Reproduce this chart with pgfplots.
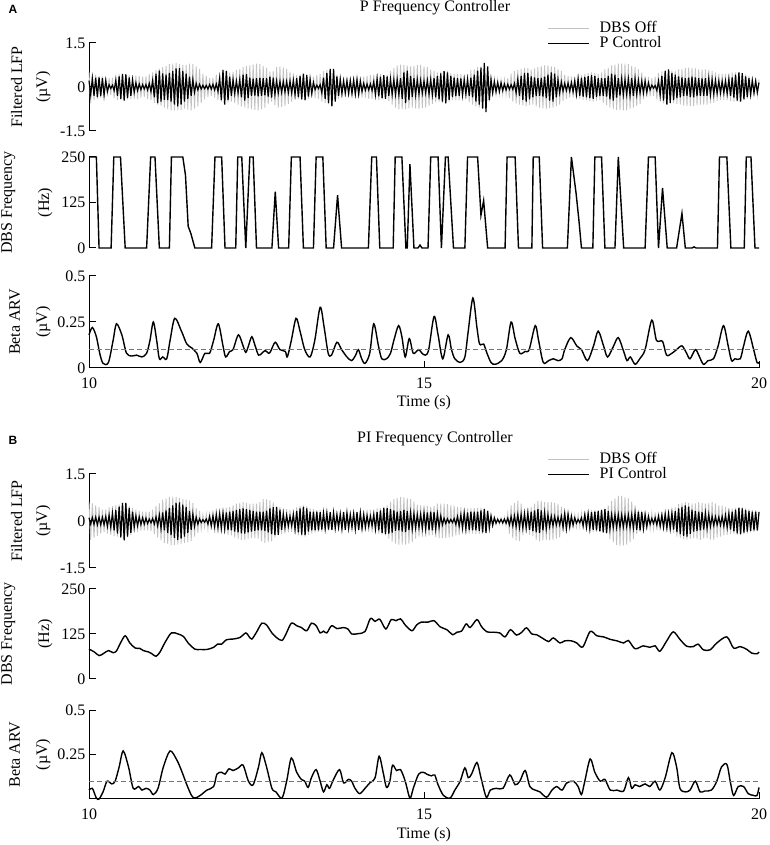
\documentclass[border=0pt]{standalone}
\usepackage{fontspec}
\setmainfont{Liberation Serif}
\newfontfamily\panelfont{Liberation Sans}
\usepackage{pgfplots}
\usepackage{pgfplotstable}
\pgfplotsset{compat=1.18}
\newcommand\fsz{\fontsize{16}{18}\selectfont}
\definecolor{offgray}{rgb}{0.76,0.76,0.76}
\definecolor{thr}{rgb}{0.95,0.25,0.25}

% LFP traces, one row every 0.025 s from 10 s to 20 s: DBS off, controller on
\pgfplotstableread[row sep=\\,header=false]{
0.52 0.22\\-0.55 -0.26\\0.5 0.28\\-0.45 -0.3\\
0.42 0.32\\-0.4 -0.34\\0.38 0.33\\-0.37 -0.31\\
0.36 0.3\\-0.35 -0.28\\0.33 0.22\\-0.32 -0.15\\
0.3 0.08\\-0.28 -0.05\\0.32 0.06\\-0.38 -0.12\\
0.42 0.22\\-0.45 -0.3\\0.44 0.36\\-0.45 -0.4\\
0.46 0.44\\-0.45 -0.46\\0.44 0.43\\-0.42 -0.38\\
0.41 0.33\\-0.4 -0.3\\0.4 0.24\\-0.4 -0.18\\
0.39 0.14\\-0.4 -0.12\\0.38 0.1\\-0.36 -0.09\\
0.35 0.08\\-0.34 -0.07\\0.36 0.08\\-0.4 -0.1\\
0.43 0.12\\-0.45 -0.15\\0.5 0.22\\-0.55 -0.35\\
0.58 0.45\\-0.6 -0.55\\0.62 0.56\\-0.65 -0.5\\
0.68 0.46\\-0.7 -0.44\\0.72 0.42\\-0.75 -0.45\\
0.78 0.48\\-0.8 -0.5\\0.8 0.55\\-0.8 -0.6\\
0.82 0.63\\-0.8 -0.66\\0.78 0.64\\-0.78 -0.6\\
0.76 0.55\\-0.74 -0.5\\0.75 0.45\\-0.77 -0.4\\
0.8 0.35\\-0.8 -0.3\\0.78 0.25\\-0.74 -0.18\\
0.7 0.12\\-0.66 -0.1\\0.62 0.09\\-0.55 -0.07\\
0.45 0.06\\-0.42 -0.06\\0.38 0.05\\-0.34 -0.07\\
0.3 0.08\\-0.3 -0.07\\0.32 0.09\\-0.36 -0.1\\
0.42 0.1\\-0.45 -0.15\\0.48 0.3\\-0.5 -0.45\\
0.54 0.58\\-0.56 -0.6\\0.55 0.55\\-0.52 -0.45\\
0.5 0.35\\-0.5 -0.3\\0.52 0.25\\-0.55 -0.22\\
0.58 0.2\\-0.6 -0.2\\0.62 0.25\\-0.66 -0.35\\
0.68 0.42\\-0.7 -0.46\\0.72 0.44\\-0.73 -0.38\\
0.74 0.32\\-0.75 -0.3\\0.76 0.28\\-0.78 -0.29\\
0.8 0.3\\-0.8 -0.32\\0.78 0.31\\-0.76 -0.3\\
0.72 0.3\\-0.7 -0.28\\0.65 0.3\\-0.58 -0.33\\
0.52 0.35\\-0.5 -0.36\\0.55 0.32\\-0.62 -0.25\\
0.68 0.2\\-0.7 -0.2\\0.7 0.19\\-0.68 -0.18\\
0.66 0.18\\-0.65 -0.17\\0.62 0.18\\-0.58 -0.19\\
0.52 0.2\\-0.5 -0.2\\0.46 0.22\\-0.42 -0.26\\
0.4 0.3\\-0.4 -0.34\\0.42 0.38\\-0.44 -0.42\\
0.45 0.45\\-0.46 -0.45\\0.44 0.4\\-0.4 -0.33\\
0.36 0.26\\-0.35 -0.22\\0.35 0.15\\-0.37 -0.09\\
0.4 0.06\\-0.4 -0.05\\0.44 0.08\\-0.5 -0.2\\
0.54 0.32\\-0.55 -0.4\\0.57 0.48\\-0.58 -0.55\\
0.6 0.62\\-0.6 -0.66\\0.58 0.62\\-0.5 -0.5\\
0.42 0.36\\-0.4 -0.3\\0.38 0.26\\-0.36 -0.22\\
0.35 0.2\\-0.34 -0.2\\0.32 0.21\\-0.3 -0.22\\
0.3 0.22\\-0.3 -0.22\\0.32 0.23\\-0.34 -0.24\\
0.35 0.25\\-0.35 -0.24\\0.36 0.2\\-0.35 -0.15\\
0.35 0.12\\-0.36 -0.11\\0.38 0.1\\-0.4 -0.1\\
0.4 0.1\\-0.41 -0.12\\0.42 0.18\\-0.44 -0.25\\
0.45 0.28\\-0.45 -0.32\\0.44 0.35\\-0.42 -0.38\\
0.4 0.4\\-0.4 -0.4\\0.42 0.36\\-0.48 -0.3\\
0.55 0.26\\-0.6 -0.25\\0.65 0.24\\-0.7 -0.25\\
0.74 0.25\\-0.75 -0.26\\0.76 0.3\\-0.75 -0.4\\
0.75 0.5\\-0.75 -0.55\\0.74 0.56\\-0.72 -0.45\\
0.7 0.38\\-0.7 -0.34\\0.72 0.3\\-0.73 -0.27\\
0.75 0.25\\-0.76 -0.24\\0.75 0.22\\-0.72 -0.21\\
0.7 0.2\\-0.7 -0.2\\0.68 0.22\\-0.65 -0.24\\
0.6 0.25\\-0.58 -0.26\\0.55 0.3\\-0.52 -0.35\\
0.5 0.38\\-0.5 -0.42\\0.52 0.46\\-0.54 -0.5\\
0.55 0.54\\-0.56 -0.56\\0.54 0.5\\-0.5 -0.44\\
0.46 0.38\\-0.45 -0.34\\0.45 0.32\\-0.45 -0.31\\
0.45 0.3\\-0.45 -0.3\\0.44 0.29\\-0.42 -0.27\\
0.4 0.25\\-0.4 -0.24\\0.45 0.26\\-0.52 -0.3\\
0.58 0.32\\-0.6 -0.35\\0.62 0.42\\-0.66 -0.5\\
0.68 0.56\\-0.7 -0.6\\0.7 0.66\\-0.72 -0.74\\
0.72 0.82\\-0.7 -0.86\\0.66 0.7\\-0.5 -0.45\\
0.35 0.26\\-0.3 -0.2\\0.28 0.18\\-0.26 -0.16\\
0.25 0.15\\-0.25 -0.15\\0.24 0.14\\-0.25 -0.12\\
0.25 0.1\\-0.26 -0.1\\0.3 0.09\\-0.38 -0.08\\
0.45 0.08\\-0.5 -0.08\\0.54 0.12\\-0.56 -0.2\\
0.58 0.26\\-0.6 -0.3\\0.62 0.38\\-0.63 -0.44\\
0.65 0.48\\-0.65 -0.5\\0.64 0.48\\-0.62 -0.42\\
0.6 0.36\\-0.6 -0.35\\0.63 0.33\\-0.66 -0.31\\
0.68 0.3\\-0.7 -0.3\\0.72 0.31\\-0.73 -0.33\\
0.74 0.35\\-0.75 -0.38\\0.74 0.42\\-0.72 -0.46\\
0.7 0.5\\-0.7 -0.5\\0.68 0.45\\-0.65 -0.35\\
0.62 0.24\\-0.6 -0.2\\0.55 0.17\\-0.48 -0.14\\
0.42 0.12\\-0.4 -0.12\\0.38 0.13\\-0.36 -0.14\\
0.35 0.15\\-0.35 -0.16\\0.36 0.2\\-0.38 -0.25\\
0.4 0.28\\-0.4 -0.3\\0.41 0.32\\-0.43 -0.33\\
0.45 0.34\\-0.45 -0.35\\0.47 0.37\\-0.48 -0.38\\
0.5 0.4\\-0.5 -0.4\\0.48 0.38\\-0.46 -0.34\\
0.45 0.3\\-0.45 -0.3\\0.5 0.3\\-0.55 -0.3\\
0.6 0.3\\-0.62 -0.33\\0.66 0.38\\-0.7 -0.42\\
0.74 0.45\\-0.75 -0.46\\0.76 0.42\\-0.78 -0.36\\
0.8 0.3\\-0.8 -0.29\\0.8 0.28\\-0.8 -0.26\\
0.8 0.25\\-0.8 -0.25\\0.78 0.27\\-0.75 -0.28\\
0.72 0.3\\-0.7 -0.3\\0.68 0.28\\-0.65 -0.25\\
0.6 0.22\\-0.58 -0.2\\0.5 0.2\\-0.42 -0.2\\
0.36 0.2\\-0.35 -0.18\\0.34 0.14\\-0.32 -0.1\\
0.3 0.06\\-0.3 -0.04\\0.35 0.05\\-0.42 -0.12\\
0.48 0.2\\-0.5 -0.28\\0.53 0.38\\-0.56 -0.46\\
0.58 0.55\\-0.6 -0.6\\0.6 0.6\\-0.58 -0.54\\
0.56 0.48\\-0.55 -0.45\\0.56 0.42\\-0.58 -0.38\\
0.6 0.36\\-0.6 -0.35\\0.62 0.33\\-0.63 -0.31\\
0.65 0.3\\-0.65 -0.3\\0.66 0.32\\-0.65 -0.34\\
0.65 0.35\\-0.65 -0.35\\0.63 0.33\\-0.62 -0.31\\
0.6 0.3\\-0.6 -0.3\\0.6 0.29\\-0.6 -0.3\\
0.6 0.3\\-0.6 -0.3\\0.58 0.28\\-0.56 -0.26\\
0.55 0.25\\-0.54 -0.24\\0.5 0.22\\-0.47 -0.21\\
0.45 0.2\\-0.45 -0.2\\0.45 0.19\\-0.44 -0.2\\
0.45 0.2\\-0.45 -0.22\\0.46 0.26\\-0.48 -0.3\\
0.5 0.33\\-0.5 -0.36\\0.5 0.42\\-0.5 -0.46\\
0.5 0.5\\-0.5 -0.5\\0.48 0.47\\-0.45 -0.42\\
0.42 0.36\\-0.4 -0.34\\0.38 0.3\\-0.35 -0.26\\
0.32 0.22\\-0.3 -0.2\\0.3 0.2\\-0.28 -0.18\\
0.25 0.15\\
}\lfpA

\pgfplotstableread[row sep=\\,header=false]{
0.6 0.1\\-0.6 -0.1\\0.56 0.11\\-0.54 -0.11\\
0.5 0.12\\-0.48 -0.12\\0.44 0.12\\-0.4 -0.12\\
0.36 0.12\\-0.35 -0.12\\0.36 0.14\\-0.4 -0.17\\
0.43 0.18\\-0.45 -0.2\\0.47 0.24\\-0.48 -0.3\\
0.5 0.35\\-0.5 -0.4\\0.52 0.46\\-0.55 -0.52\\
0.58 0.58\\-0.6 -0.62\\0.58 0.58\\-0.52 -0.5\\
0.47 0.42\\-0.45 -0.38\\0.42 0.3\\-0.38 -0.2\\
0.36 0.16\\-0.35 -0.15\\0.33 0.13\\-0.31 -0.11\\
0.3 0.1\\-0.3 -0.1\\0.3 0.09\\-0.3 -0.08\\
0.3 0.06\\-0.32 -0.06\\0.36 0.08\\-0.42 -0.1\\
0.48 0.13\\-0.52 -0.15\\0.56 0.19\\-0.62 -0.24\\
0.68 0.27\\-0.7 -0.3\\0.72 0.34\\-0.74 -0.38\\
0.77 0.42\\-0.78 -0.45\\0.78 0.5\\-0.77 -0.54\\
0.76 0.58\\-0.75 -0.6\\0.74 0.59\\-0.72 -0.56\\
0.7 0.52\\-0.7 -0.5\\0.68 0.44\\-0.67 -0.38\\
0.65 0.32\\-0.64 -0.28\\0.58 0.22\\-0.5 -0.17\\
0.42 0.12\\-0.38 -0.1\\0.32 0.07\\-0.26 -0.05\\
0.2 0.04\\-0.2 -0.04\\0.22 0.06\\-0.26 -0.1\\
0.3 0.14\\-0.3 -0.15\\0.34 0.16\\-0.38 -0.18\\
0.4 0.2\\-0.4 -0.2\\0.4 0.22\\-0.4 -0.23\\
0.4 0.25\\-0.4 -0.25\\0.42 0.27\\-0.44 -0.29\\
0.45 0.3\\-0.46 -0.3\\0.5 0.32\\-0.53 -0.34\\
0.55 0.35\\-0.56 -0.36\\0.58 0.38\\-0.6 -0.39\\
0.6 0.4\\-0.6 -0.4\\0.58 0.38\\-0.56 -0.36\\
0.55 0.35\\-0.55 -0.34\\0.55 0.32\\-0.55 -0.31\\
0.55 0.3\\-0.56 -0.3\\0.6 0.3\\-0.65 -0.3\\
0.7 0.3\\-0.7 -0.31\\0.69 0.33\\-0.68 -0.36\\
0.66 0.4\\-0.65 -0.42\\0.6 0.44\\-0.52 -0.45\\
0.46 0.45\\-0.45 -0.44\\0.44 0.36\\-0.42 -0.28\\
0.4 0.22\\-0.4 -0.2\\0.38 0.18\\-0.36 -0.16\\
0.35 0.15\\-0.35 -0.15\\0.38 0.2\\-0.42 -0.26\\
0.44 0.32\\-0.45 -0.36\\0.47 0.4\\-0.49 -0.43\\
0.5 0.45\\-0.5 -0.45\\0.47 0.4\\-0.44 -0.34\\
0.4 0.3\\-0.4 -0.3\\0.38 0.3\\-0.36 -0.3\\
0.35 0.3\\-0.35 -0.3\\0.35 0.28\\-0.35 -0.27\\
0.35 0.25\\-0.34 -0.24\\0.33 0.25\\-0.31 -0.27\\
0.3 0.28\\-0.3 -0.28\\0.3 0.26\\-0.3 -0.23\\
0.3 0.2\\-0.3 -0.2\\0.3 0.22\\-0.3 -0.25\\
0.3 0.28\\-0.3 -0.28\\0.29 0.26\\-0.29 -0.23\\
0.28 0.2\\-0.28 -0.2\\0.29 0.23\\-0.3 -0.26\\
0.3 0.28\\-0.3 -0.28\\0.32 0.26\\-0.34 -0.23\\
0.35 0.2\\-0.35 -0.19\\0.35 0.17\\-0.35 -0.16\\
0.35 0.15\\-0.36 -0.15\\0.37 0.2\\-0.38 -0.25\\
0.4 0.28\\-0.4 -0.3\\0.41 0.34\\-0.43 -0.38\\
0.45 0.42\\-0.46 -0.42\\0.5 0.41\\-0.56 -0.4\\
0.62 0.38\\-0.66 -0.37\\0.7 0.34\\-0.72 -0.31\\
0.74 0.3\\-0.75 -0.3\\0.76 0.32\\-0.75 -0.34\\
0.75 0.35\\-0.75 -0.35\\0.74 0.32\\-0.72 -0.29\\
0.7 0.26\\-0.68 -0.25\\0.62 0.23\\-0.56 -0.22\\
0.52 0.2\\-0.5 -0.2\\0.5 0.21\\-0.5 -0.23\\
0.5 0.25\\-0.5 -0.25\\0.48 0.27\\-0.47 -0.29\\
0.45 0.3\\-0.45 -0.3\\0.48 0.28\\-0.52 -0.25\\
0.55 0.22\\-0.55 -0.2\\0.55 0.16\\-0.55 -0.12\\
0.55 0.09\\-0.55 -0.08\\0.54 0.07\\-0.52 -0.06\\
0.5 0.05\\-0.5 -0.05\\0.48 0.08\\-0.46 -0.11\\
0.45 0.14\\-0.45 -0.16\\0.43 0.19\\-0.42 -0.22\\
0.4 0.25\\-0.4 -0.25\\0.4 0.27\\-0.4 -0.29\\
0.4 0.3\\-0.4 -0.3\\0.41 0.3\\-0.42 -0.3\\
0.42 0.3\\-0.42 -0.31\\0.42 0.34\\-0.41 -0.36\\
0.4 0.38\\-0.4 -0.38\\0.34 0.32\\-0.24 -0.22\\
0.18 0.16\\-0.15 -0.14\\0.13 0.1\\-0.12 -0.07\\
0.1 0.05\\-0.1 -0.05\\0.1 0.05\\-0.11 -0.06\\
0.12 0.06\\-0.14 -0.07\\0.25 0.09\\-0.4 -0.12\\
0.5 0.14\\-0.55 -0.15\\0.58 0.16\\-0.62 -0.18\\
0.65 0.2\\-0.64 -0.2\\0.55 0.21\\-0.45 -0.22\\
0.4 0.22\\-0.4 -0.22\\0.42 0.25\\-0.44 -0.28\\
0.45 0.3\\-0.48 -0.32\\0.55 0.34\\-0.6 -0.36\\
0.64 0.38\\-0.65 -0.38\\0.64 0.34\\-0.62 -0.3\\
0.6 0.26\\-0.6 -0.24\\0.6 0.2\\-0.6 -0.17\\
0.6 0.15\\-0.6 -0.15\\0.58 0.14\\-0.56 -0.13\\
0.55 0.12\\-0.52 -0.12\\0.45 0.15\\-0.36 -0.2\\
0.3 0.24\\-0.3 -0.25\\0.28 0.22\\-0.25 -0.18\\
0.22 0.15\\-0.2 -0.13\\0.2 0.1\\-0.2 -0.07\\
0.2 0.05\\-0.2 -0.05\\0.24 0.1\\-0.28 -0.15\\
0.3 0.2\\-0.3 -0.2\\0.32 0.23\\-0.33 -0.25\\
0.35 0.28\\-0.35 -0.28\\0.35 0.3\\-0.35 -0.3\\
0.35 0.32\\-0.35 -0.33\\0.37 0.35\\-0.38 -0.36\\
0.4 0.38\\-0.42 -0.38\\0.5 0.32\\-0.58 -0.25\\
0.64 0.2\\-0.68 -0.2\\0.72 0.2\\-0.76 -0.2\\
0.8 0.2\\-0.8 -0.2\\0.8 0.19\\-0.78 -0.19\\
0.76 0.18\\-0.75 -0.18\\0.72 0.19\\-0.68 -0.2\\
0.62 0.2\\-0.58 -0.22\\0.5 0.25\\-0.42 -0.28\\
0.36 0.3\\-0.35 -0.3\\0.34 0.28\\-0.32 -0.24\\
0.3 0.2\\-0.3 -0.18\\0.28 0.14\\-0.26 -0.1\\
0.25 0.08\\-0.25 -0.08\\0.27 0.1\\-0.29 -0.12\\
0.3 0.15\\-0.3 -0.16\\0.3 0.18\\-0.3 -0.2\\
0.3 0.22\\-0.31 -0.22\\0.32 0.23\\-0.33 -0.24\\
0.35 0.25\\-0.38 -0.27\\0.44 0.31\\-0.5 -0.35\\
0.54 0.4\\-0.55 -0.42\\0.57 0.45\\-0.58 -0.47\\
0.6 0.5\\-0.6 -0.5\\0.58 0.46\\-0.56 -0.41\\
0.55 0.36\\-0.55 -0.34\\0.56 0.32\\-0.58 -0.31\\
0.6 0.3\\-0.6 -0.3\\0.58 0.28\\-0.56 -0.27\\
0.55 0.25\\-0.55 -0.23\\0.57 0.2\\-0.59 -0.17\\
0.6 0.15\\-0.6 -0.14\\0.56 0.13\\-0.52 -0.12\\
0.5 0.12\\-0.5 -0.13\\0.48 0.14\\-0.46 -0.16\\
0.45 0.18\\-0.44 -0.2\\0.42 0.23\\-0.41 -0.27\\
0.4 0.3\\-0.4 -0.33\\0.42 0.36\\-0.44 -0.39\\
0.45 0.42\\-0.45 -0.42\\0.44 0.4\\-0.42 -0.37\\
0.4 0.35\\-0.4 -0.34\\0.38 0.32\\-0.36 -0.31\\
0.35 0.3\\-0.35 -0.3\\0.34 0.3\\-0.33 -0.3\\
0.32 0.28\\
}\lfpB

\pgfplotsset{
  panel/.style={scale only axis, width=670pt, xmin=10, xmax=20, clip=false,
    axis line style={line width=1pt}, tick style={line width=1pt,black},
    tick align=inside, major tick length=7pt, axis y line*=left,
    tick label style={font=\fsz}},
  toppanel/.style={panel, hide x axis},
  botpanel/.style={panel, axis x line*=bottom, xtick={10,15,20},
    xticklabels={10,15,20}, xticklabel style={yshift=-6pt}},
  lfp/.style={toppanel, height=#1, ymin=-1.5, ymax=1.5, ytick={-1.5,0,1.5},
    yticklabels={-1.5,0,1.5}, legend cell align=left,
    legend image code/.code={\draw[##1] (0pt,0pt) -- (41pt,0pt);}},
  freq/.style={toppanel, height=#1, ymin=0, ymax=250, ytick={0,125,250},
    yticklabels={0,125,250}},
  arv/.style={botpanel, height=#1, ymin=0, ymax=0.5, ytick={0,0.25,0.5}},
  offline/.style={color=offgray, line width=0.85pt},
  online/.style={color=black, line width=1.2pt},
  trace/.style={color=black, line width=1.4pt},
  legstyle/.style={legend style={at={#1}, anchor=north west, draw=none,
    fill=none, inner sep=0pt, row sep=1.5pt, column sep=10pt, font=\fsz,
    nodes={inner sep=0pt, text height=10.5pt, text depth=3pt}}}
}

\begin{document}
\begin{tikzpicture}[font=\fsz]
\useasboundingbox (0pt,0pt) rectangle (770pt,845pt);

% ---------------- A ----------------
\node[anchor=base west, font=\panelfont\bfseries\fontsize{12}{14}\selectfont] at (5pt,831pt) {A};
\node[anchor=base] at (435pt,833pt) {P Frequency Controller};

\begin{axis}[lfp=88pt, at={(89pt,714pt)}, anchor=south west, legstyle={(0.684,1.244)}]
\addplot[offline] table[x expr=10+\coordindex*0.025, y index=0] {\lfpA};
\addplot[online] table[x expr=10+\coordindex*0.025, y index=1] {\lfpA};
\legend{DBS Off, P Control}
\end{axis}

\begin{axis}[freq=91pt, at={(89pt,597pt)}, anchor=south west]
\addplot[trace] coordinates {(10.0,250) (10.11,250) (10.15,0) (10.33,0) (10.37,250) (10.47,250) (10.54,0) (10.86,0) (10.92,250) (10.985,250) (11.05,0) (11.2,0) (11.23,250) (11.4,250) (11.44,200) (11.48,60) (11.52,40) (11.58,0) (11.83,0) (11.88,250) (11.98,250) (12.03,0) (12.19,0) (12.22,250) (12.28,250) (12.34,0) (12.40,250) (12.45,250) (12.5,0) (12.73,0) (12.78,155) (12.83,0) (12.98,0) (13.02,250) (13.15,250) (13.2,0) (13.35,0) (13.39,250) (13.49,250) (13.54,0) (13.65,0) (13.71,145) (13.77,0) (14.17,0) (14.22,250) (14.29,250) (14.34,0) (14.54,0) (14.57,250) (14.67,250) (14.73,0) (14.75,0) (14.79,230) (14.85,0) (14.91,0) (14.94,8) (14.97,0) (15.06,0) (15.10,250) (15.21,250) (15.26,0) (15.32,250) (15.36,250) (15.44,0) (15.61,0) (15.65,250) (15.80,250) (15.85,90) (15.89,130) (15.95,0) (16.21,0) (16.24,250) (16.36,250) (16.41,0) (16.61,0) (16.63,250) (16.72,250) (16.77,0) (17.14,0) (17.2,250) (17.27,150) (17.31,80) (17.35,0) (17.52,0) (17.55,250) (17.65,250) (17.70,0) (17.85,0) (17.90,250) (17.98,0) (18.30,0) (18.35,250) (18.45,250) (18.50,0) (18.56,165) (18.63,0) (18.77,0) (18.85,95) (18.90,0) (19.0,0) (19.03,3) (19.06,0) (19.38,0) (19.41,250) (19.52,250) (19.58,0) (19.78,0) (19.81,250) (19.88,250) (19.94,0) (20.0,0)};
\end{axis}

\begin{axis}[arv=92pt, at={(89pt,477pt)}, anchor=south west, yticklabels={0,0.25,0.5}]
\addplot[trace, smooth, tension=0.5] coordinates {(10.0,0.18) (10.05,0.22) (10.11,0.17) (10.16,0.08) (10.21,0.025) (10.29,0.03) (10.36,0.15) (10.41,0.24) (10.49,0.18) (10.56,0.08) (10.64,0.065) (10.71,0.07) (10.79,0.06) (10.86,0.08) (10.91,0.15) (10.96,0.25) (11.01,0.15) (11.05,0.05) (11.10,0.06) (11.16,0.05) (11.21,0.15) (11.28,0.27) (11.38,0.2) (11.46,0.13) (11.53,0.11) (11.61,0.08) (11.66,0.03) (11.73,0.08) (11.80,0.08) (11.86,0.15) (11.93,0.24) (12.0,0.12) (12.04,0.06) (12.10,0.09) (12.15,0.1) (12.23,0.18) (12.30,0.12) (12.34,0.085) (12.38,0.12) (12.43,0.17) (12.48,0.12) (12.53,0.07) (12.58,0.08) (12.63,0.095) (12.68,0.08) (12.71,0.09) (12.78,0.14) (12.85,0.1) (12.93,0.09) (12.96,0.06) (13.02,0.15) (13.09,0.27) (13.15,0.2) (13.22,0.1) (13.30,0.06) (13.37,0.15) (13.45,0.33) (13.51,0.22) (13.57,0.08) (13.62,0.07) (13.70,0.14) (13.77,0.1) (13.85,0.06) (13.92,0.04) (13.98,0.07) (14.02,0.1) (14.07,0.05) (14.12,0.025) (14.19,0.08) (14.25,0.24) (14.32,0.12) (14.37,0.05) (14.44,0.05) (14.50,0.08) (14.55,0.15) (14.62,0.23) (14.67,0.17) (14.72,0.06) (14.78,0.16) (14.84,0.08) (14.92,0.1) (14.97,0.08) (15.02,0.07) (15.07,0.1) (15.15,0.28) (15.21,0.18) (15.28,0.05) (15.36,0.18) (15.41,0.1) (15.46,0.05) (15.54,0.03) (15.61,0.06) (15.66,0.2) (15.73,0.38) (15.79,0.22) (15.83,0.13) (15.89,0.13) (15.94,0.08) (16.0,0.03) (16.06,0.02) (16.16,0.04) (16.23,0.1) (16.30,0.25) (16.36,0.16) (16.43,0.08) (16.51,0.09) (16.57,0.1) (16.66,0.23) (16.71,0.15) (16.78,0.03) (16.86,0.04) (16.93,0.05) (17.0,0.04) (17.06,0.05) (17.10,0.1) (17.19,0.165) (17.28,0.12) (17.35,0.1) (17.44,0.04) (17.53,0.12) (17.60,0.2) (17.68,0.12) (17.74,0.06) (17.83,0.12) (17.90,0.165) (17.98,0.09) (18.03,0.04) (18.08,0.06) (18.15,0.02) (18.22,0.05) (18.30,0.1) (18.40,0.26) (18.47,0.15) (18.56,0.145) (18.62,0.07) (18.70,0.08) (18.77,0.1) (18.85,0.12) (18.92,0.08) (18.97,0.05) (19.05,0.1) (19.10,0.07) (19.17,0.02) (19.24,0.04) (19.32,0.05) (19.39,0.12) (19.47,0.23) (19.54,0.12) (19.59,0.04) (19.64,0.05) (19.72,0.05) (19.77,0.12) (19.84,0.2) (19.92,0.1) (19.97,0.03) (20.0,0.03)};
\addplot[color=thr, line width=1.4pt, dash pattern=on 5pt off 3pt] coordinates {(10,0.1) (20,0.1)};
\end{axis}

% ---------------- B ----------------
\node[anchor=base west, font=\panelfont\bfseries\fontsize{12}{14}\selectfont] at (5pt,400pt) {B};
\node[anchor=base] at (435pt,402pt) {PI Frequency Controller};

\begin{axis}[lfp=94pt, at={(89pt,277pt)}, anchor=south west, legstyle={(0.684,1.229)}]
\addplot[offline] table[x expr=10+\coordindex*0.025, y index=0] {\lfpB};
\addplot[online] table[x expr=10+\coordindex*0.025, y index=1] {\lfpB};
\legend{DBS Off, PI Control}
\end{axis}

\begin{axis}[freq=90pt, at={(89pt,166pt)}, anchor=south west]
\addplot[trace, smooth, tension=0.5] coordinates {(10.0,83) (10.08,75) (10.15,65) (10.21,70) (10.29,79) (10.36,73) (10.41,78) (10.47,100) (10.54,120) (10.61,100) (10.69,86) (10.76,85) (10.81,79) (10.89,75) (10.94,70) (11.0,63) (11.06,75) (11.13,100) (11.23,128) (11.33,125) (11.41,118) (11.48,100) (11.58,83) (11.66,82) (11.76,82) (11.86,88) (11.92,97) (11.98,97) (12.05,109) (12.15,111) (12.25,115) (12.34,128) (12.38,120) (12.43,111) (12.50,130) (12.58,155) (12.65,150) (12.73,128) (12.80,115) (12.88,107) (12.94,125) (13.02,155) (13.10,148) (13.17,143) (13.25,134) (13.32,155) (13.39,148) (13.45,128) (13.50,133) (13.55,128) (13.62,148) (13.70,140) (13.80,143) (13.87,138) (13.92,125) (14.02,126) (14.12,132) (14.2,168) (14.27,160) (14.34,166) (14.43,139) (14.51,165) (14.58,162) (14.65,167) (14.72,150) (14.82,134) (14.89,150) (14.96,158) (15.06,158) (15.15,162) (15.24,145) (15.34,137) (15.43,123) (15.49,130) (15.56,133) (15.63,153) (15.69,143) (15.79,165) (15.86,145) (15.94,131) (16.03,130) (16.13,128) (16.21,117) (16.29,137) (16.38,122) (16.46,130) (16.53,142) (16.61,125) (16.68,123) (16.78,112) (16.86,104) (16.93,114) (17.03,100) (17.10,106) (17.20,106) (17.28,100) (17.37,89) (17.48,132) (17.58,120) (17.68,117) (17.78,110) (17.88,106) (17.98,100) (18.05,107) (18.15,84) (18.27,92) (18.37,88) (18.45,92) (18.52,77) (18.62,105) (18.72,131) (18.82,110) (18.92,91) (19.02,90) (19.09,97) (19.17,81) (19.27,81) (19.37,100) (19.52,117) (19.62,86) (19.72,90) (19.82,82) (19.89,72) (19.97,70) (20.0,75)};
\end{axis}

\begin{axis}[arv=89pt, at={(89pt,46pt)}, anchor=south west, yticklabels={,0.25,0.5}]
\addplot[trace, smooth, tension=0.5] coordinates {(10.0,0.05) (10.05,0.06) (10.11,0.005) (10.15,0.0) (10.21,0.04) (10.27,0.1) (10.34,0.085) (10.39,0.1) (10.45,0.18) (10.51,0.27) (10.59,0.18) (10.66,0.06) (10.74,0.07) (10.79,0.05) (10.85,0.06) (10.91,0.05) (10.96,0.025) (11.03,0.06) (11.11,0.18) (11.21,0.27) (11.31,0.22) (11.38,0.16) (11.46,0.08) (11.53,0.02) (11.58,0.005) (11.66,0.02) (11.76,0.05) (11.86,0.07) (11.91,0.14) (11.98,0.15) (12.03,0.14) (12.09,0.17) (12.15,0.16) (12.23,0.175) (12.30,0.19) (12.38,0.1) (12.45,0.08) (12.53,0.18) (12.58,0.26) (12.65,0.18) (12.73,0.06) (12.79,0.04) (12.88,0.005) (12.95,0.1) (13.02,0.23) (13.10,0.15) (13.17,0.11) (13.22,0.1) (13.27,0.065) (13.32,0.12) (13.39,0.165) (13.45,0.1) (13.50,0.04) (13.55,0.08) (13.59,0.06) (13.65,0.11) (13.74,0.165) (13.80,0.09) (13.87,0.11) (13.92,0.1) (13.97,0.06) (14.04,0.03) (14.12,0.06) (14.19,0.09) (14.27,0.12) (14.33,0.24) (14.39,0.15) (14.44,0.065) (14.49,0.1) (14.53,0.19) (14.59,0.16) (14.65,0.165) (14.72,0.1) (14.79,0.005) (14.84,0.06) (14.92,0.14) (14.99,0.15) (15.04,0.14) (15.11,0.13) (15.16,0.135) (15.21,0.08) (15.29,0.02) (15.39,0.005) (15.46,0.05) (15.54,0.1) (15.61,0.175) (15.66,0.12) (15.71,0.14) (15.79,0.205) (15.85,0.12) (15.93,0.01) (15.99,0.05) (16.08,0.06) (16.18,0.06) (16.28,0.135) (16.36,0.08) (16.43,0.1) (16.51,0.16) (16.58,0.07) (16.66,0.05) (16.73,0.04) (16.83,0.01) (16.91,0.05) (16.98,0.07) (17.06,0.05) (17.13,0.09) (17.23,0.1) (17.30,0.07) (17.35,0.025) (17.40,0.1) (17.48,0.225) (17.55,0.15) (17.63,0.1) (17.70,0.11) (17.78,0.05) (17.88,0.05) (17.98,0.045) (18.05,0.12) (18.10,0.06) (18.15,0.08) (18.22,0.07) (18.30,0.085) (18.37,0.07) (18.45,0.1) (18.52,0.05) (18.60,0.12) (18.70,0.26) (18.77,0.18) (18.82,0.06) (18.90,0.04) (18.97,0.05) (19.05,0.1) (19.12,0.04) (19.19,0.045) (19.29,0.05) (19.37,0.1) (19.44,0.18) (19.52,0.195) (19.57,0.1) (19.62,0.02) (19.69,0.07) (19.77,0.07) (19.84,0.03) (19.92,0.02) (19.97,0.02) (20.0,0.065)};
\addplot[color=thr, line width=1.4pt, dash pattern=on 5pt off 3pt] coordinates {(10,0.1) (20,0.1)};
\end{axis}

% axis labels
\node[rotate=90, anchor=base] at (22pt,758pt) {Filtered LFP};
\node[rotate=90, anchor=base] at (47pt,758pt) {(µV)};
\node[rotate=90, anchor=base] at (12pt,642.5pt) {DBS Frequency};
\node[rotate=90, anchor=base] at (49pt,642.5pt) {(Hz)};
\node[rotate=90, anchor=base] at (20pt,523pt) {Beta ARV};
\node[rotate=90, anchor=base] at (47pt,523pt) {(µV)};
\node at (424pt,442pt) {Time (s)};

\node[rotate=90, anchor=base] at (22pt,324pt) {Filtered LFP};
\node[rotate=90, anchor=base] at (47pt,324pt) {(µV)};
\node[rotate=90, anchor=base] at (12pt,211pt) {DBS Frequency};
\node[rotate=90, anchor=base] at (49pt,211pt) {(Hz)};
\node[rotate=90, anchor=base] at (20pt,90.5pt) {Beta ARV};
\node[rotate=90, anchor=base] at (47pt,90.5pt) {(µV)};
\node at (424pt,10pt) {Time (s)};
\end{tikzpicture}
\end{document}
